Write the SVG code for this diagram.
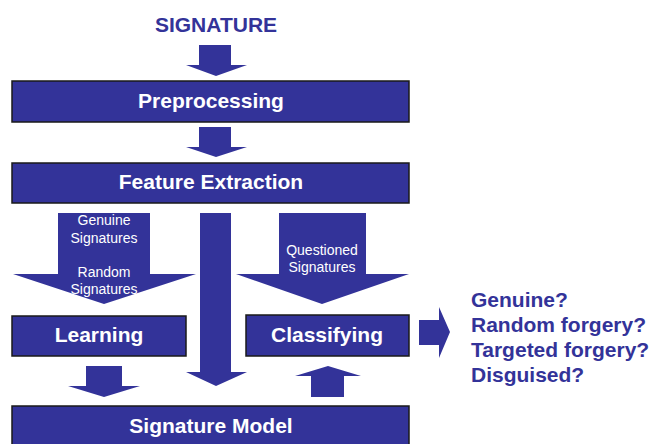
<svg xmlns="http://www.w3.org/2000/svg" width="665" height="444" viewBox="0 0 665 444">
<style>
.box{fill:#333399;stroke:#1a1a1a;stroke-width:1.5}
.arr{fill:#333399}
.bt{font-family:"Liberation Sans",Arial,sans-serif;font-weight:bold;font-size:21px;fill:#fff;text-anchor:middle}
.st{font-family:"Liberation Sans",Arial,sans-serif;font-size:14px;fill:#fff;text-anchor:middle}
.ot{font-family:"Liberation Sans",Arial,sans-serif;font-weight:bold;font-size:21px;fill:#333399}
</style>
<rect width="665" height="444" fill="#fff"/>
<text x="216" y="32" class="ot" style="text-anchor:middle">SIGNATURE</text>
<g id="connectors">
<polygon class="arr" points="199,45 231,45 231,65 247,65 216,76 186,65 199,65"/>
<polygon class="arr" points="199,127 231,127 231,147 247,147 216,157 186,147 199,147"/>
<polygon class="arr" points="58,213 150,213 150,274 196,274 104,304 13,274 58,274"/>
<polygon class="arr" points="200,213 231,213 231,372 247,372 216,386 186,372 200,372"/>
<polygon class="arr" points="279,213 366,213 366,274 409,274 322,304 236,274 279,274"/>
<polygon class="arr" points="86,366 122,366 122,386 140,386 104,397 68,386 86,386"/>
<polygon class="arr" points="311,397 344,397 344,376 361,376 328,366 295,376 311,376"/>
<polygon class="arr" points="419,320 439,320 439,307 450,332 439,358 439,345 419,345"/>
</g>
<g id="labels">
<text x="104" y="225" class="st">Genuine</text>
<text x="104" y="243" class="st">Signatures</text>
<text x="104" y="277" class="st">Random</text>
<text x="104" y="294" class="st">Signatures</text>
<text x="322" y="255" class="st">Questioned</text>
<text x="322" y="272" class="st">Signatures</text>
</g>
<g id="preprocessing">
<rect class="box" x="12" y="81" width="397" height="41"/>
<text x="211" y="108" class="bt">Preprocessing</text>
</g>
<g id="feature-extraction">
<rect class="box" x="12" y="163" width="397" height="40"/>
<text x="211" y="189" class="bt">Feature Extraction</text>
</g>
<g id="learning">
<rect class="box" x="12" y="316" width="174" height="40"/>
<text x="99" y="342" class="bt">Learning</text>
</g>
<g id="classifying">
<rect class="box" x="246" y="315" width="163" height="41"/>
<text x="327" y="342" class="bt">Classifying</text>
</g>
<g id="signature-model">
<rect class="box" x="12" y="406" width="397" height="45"/>
<text x="211" y="433" class="bt">Signature Model</text>
</g>
<g id="outcomes">
<text x="471" y="307" class="ot">Genuine?</text>
<text x="471" y="332" class="ot">Random forgery?</text>
<text x="471" y="357" class="ot">Targeted forgery?</text>
<text x="471" y="382" class="ot">Disguised?</text>
</g>
</svg>
